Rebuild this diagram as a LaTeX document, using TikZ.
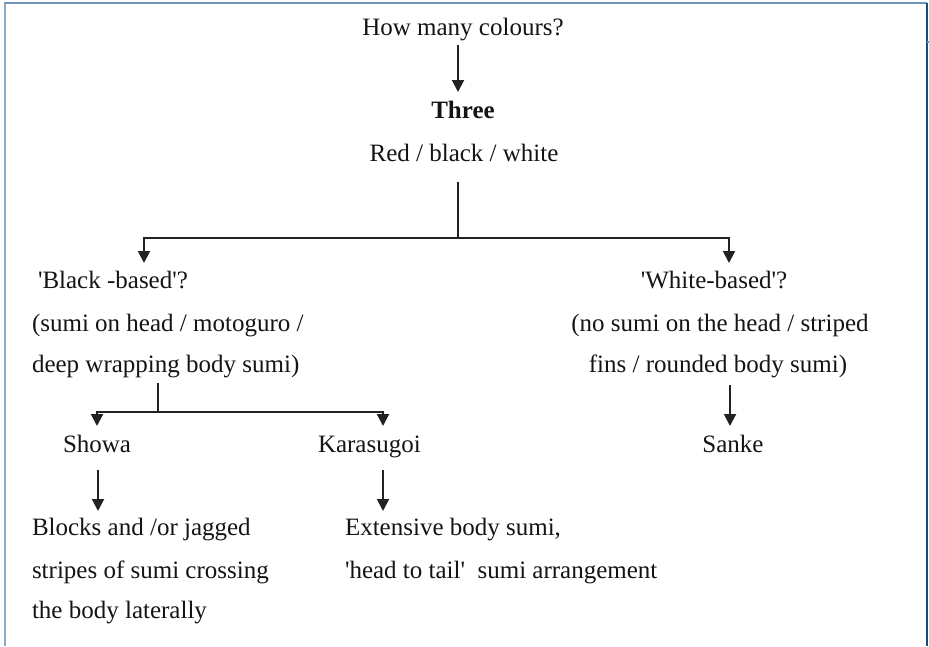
\documentclass[tikz,border=0pt]{standalone}
\usepackage{fontspec}
\setmainfont{Liberation Serif}
\usetikzlibrary{arrows.meta}
\definecolor{txt}{HTML}{141414}
\definecolor{linec}{HTML}{222222}
\definecolor{frtop}{HTML}{6F94B7}
\definecolor{frleft}{HTML}{8FAAC4}
\definecolor{frright}{HTML}{1C4A78}
\newcommand{\sq}{\textquotesingle}
\begin{document}
\begin{tikzpicture}[x=1pt,y=-1pt,
  font=\fontsize{25}{28}\selectfont,
  every node/.style={inner sep=0pt, outer sep=0pt, text=txt},
  lbl/.style={anchor=base west},
  clbl/.style={anchor=base},
  ln/.style={line width=2pt, draw=linec},
  arr/.style={ln, -{Triangle[width=12pt,length=12pt]}}]
\useasboundingbox (0,0) rectangle (929,646);
% frame
\draw[frtop, line width=2.5pt] (4,3) -- (927,3);
\draw[frleft, line width=2.5pt] (5,3) -- (5,646);
\draw[frright, line width=2pt] (927,3) -- (927,646);
\draw[frtop, line width=1.5pt] (927,42) -- (929,42);
% texts
\node[clbl] (q) at (463,35) {How many colours?};
\node[clbl, font=\fontsize{25}{28}\selectfont\bfseries] (three) at (463,118) {Three};
\node[clbl] (rbw) at (464,161) {Red / black / white};
\node[lbl] (bb1) at (38,288) {\sq Black -based\sq?};
\node[lbl] (bb2) at (32,331) {(sumi on head / motoguro /};
\node[lbl] (bb3) at (32,372) {deep wrapping body sumi)};
\node[clbl] (wb1) at (714,288) {\sq White-based\sq?};
\node[clbl] (wb2) at (720,331) {(no sumi on the head / striped};
\node[clbl] (wb3) at (718,372) {fins / rounded body sumi)};
\node[lbl] (showa) at (63,452) {Showa};
\node[lbl] (kara) at (318,452) {Karasugoi};
\node[clbl] (sanke) at (733,452) {Sanke};
\node[lbl] (s1) at (32,535) {Blocks and /or jagged};
\node[lbl] (s2) at (32,578) {stripes of sumi crossing};
\node[lbl] (s3) at (32,618) {the body laterally};
\node[lbl] (k1) at (345,535) {Extensive body sumi,};
\node[lbl] (k2) at (345,578) {\sq head to tail\sq\ \ sumi arrangement};
% connector points
\coordinate (qo) at (458,45);
\coordinate (thi) at (458,92);
\coordinate (rbo) at (458,182);
\coordinate (j1) at (458,238);
\coordinate (bbi) at (144,263);
\coordinate (wbi) at (729,263);
\coordinate (bbo) at (158,383);
\coordinate (j2) at (158,412);
\coordinate (shi) at (97,426);
\coordinate (kai) at (383,426);
\coordinate (sho) at (98,470);
\coordinate (s1i) at (98,511);
\coordinate (kao) at (383,470);
\coordinate (k1i) at (383,511);
\coordinate (wbo) at (730,385);
\coordinate (sai) at (730,426);
% connectors
\draw[arr] (qo) -- (thi);
\draw[ln] (rbo) -- (j1);
\draw[arr] (j1) -| (bbi);
\draw[arr] (j1) -| (wbi);
\draw[ln] (bbo) -- (j2);
\draw[arr] (j2) -| (shi);
\draw[arr] (j2) -| (kai);
\draw[arr] (sho) -- (s1i);
\draw[arr] (kao) -- (k1i);
\draw[arr] (wbo) -- (sai);
\end{tikzpicture}
\end{document}
